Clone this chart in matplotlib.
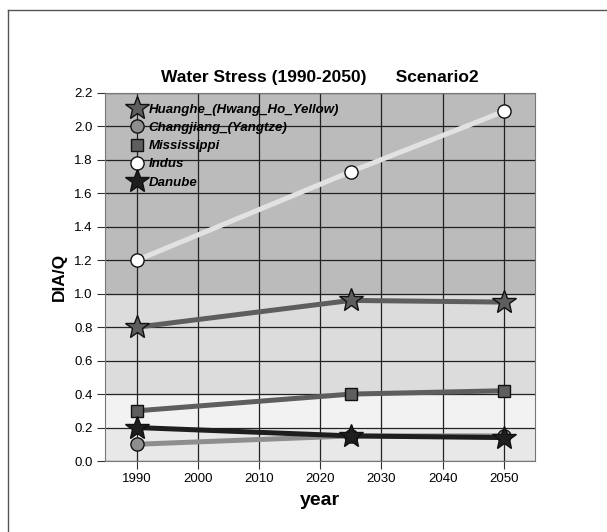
import matplotlib
matplotlib.use('Agg')
import matplotlib.pyplot as plt
from matplotlib.lines import Line2D

plt.rcParams['font.family'] = ['Liberation Sans', 'DejaVu Sans']

# Data
years = [1990, 2025, 2050]
rivers = ['Huanghe_(Hwang_Ho_Yellow)', 'Changjiang_(Yangtze)', 'Mississippi', 'Indus', 'Danube']
huanghe = [0.80, 0.96, 0.95]
changjiang = [0.10, 0.15, 0.15]
mississippi = [0.30, 0.40, 0.42]
indus = [1.20, 1.73, 2.09]
danube = [0.20, 0.15, 0.14]
series = [huanghe, changjiang, mississippi, indus, danube]

# Styles
line_colors = ['#5e5e5e', '#8e8e8e', '#5e5e5e', '#e2e2e2', '#1e1e1e']
face_colors = ['#5e5e5e', '#8e8e8e', '#5e5e5e', '#ffffff', '#1e1e1e']
markers = ['*', 'o', 's', 'o', '*']
msizes = [18, 9.5, 9, 9.5, 18]

fig = plt.figure(figsize=(6.07, 5.32), dpi=100)
ax = fig.add_axes([105/607, 1-461/532, 430/607, 368/532])

# background bands
ax.axhspan(0.0, 0.2, color='#e8e8e8', zorder=0)
ax.axhspan(0.2, 0.4, color='#f2f2f2', zorder=0)
ax.axhspan(0.4, 1.0, color='#dcdcdc', zorder=0)
ax.axhspan(1.0, 2.2, color='#bbbbbb', zorder=0)

for vals, lc, fc, m, ms in zip(series, line_colors, face_colors, markers, msizes):
    ax.plot(years, vals, color=lc, lw=3.6, zorder=3)
    ax.plot(years, vals, ls='none', marker=m, ms=ms, mfc=fc, mec='#111111', mew=1.0, zorder=4)

ax.set_xlim(1984.8, 2055.1)
ax.set_ylim(0, 2.2)
ax.set_xticks([1990, 2000, 2010, 2020, 2030, 2040, 2050])
ax.set_yticks([i * 0.2 for i in range(12)])
ax.set_yticklabels([f'{i * 0.2:.1f}' for i in range(12)])
ax.grid(True, color='#222222', lw=0.9, zorder=1)
ax.set_axisbelow(True)
ax.tick_params(direction='out', length=6, width=0.8, labelsize=9.5, pad=3, color='#333333')
for s in ax.spines.values():
    s.set_color('#777777')
    s.set_linewidth(0.8)

ax.set_title('Water Stress (1990-2050)      Scenario2', fontsize=12.5, fontweight='bold', pad=8)
ax.set_xlabel('year', fontsize=14, fontweight='bold', labelpad=5)
ax.set_ylabel('DIA/Q', fontsize=12.5, fontweight='bold', labelpad=5)

handles = [Line2D([], [], ls='none', marker=m, ms=ms, mfc=fc, mec='#111111', mew=1.0)
           for m, ms, fc in zip(markers, msizes, face_colors)]
leg = ax.legend(handles, rivers, loc='upper left', bbox_to_anchor=(0.05, 0.971), frameon=False,
                handlelength=1.6, handletextpad=0.05, labelspacing=0.45, borderaxespad=0.0,
                borderpad=0.0, prop={'size': 9.5, 'style': 'italic', 'weight': 'bold'})

# outer frame lines
fig.add_artist(Line2D([8/607, 1.0], [1-10/532, 1-10/532], color='#555555', lw=1.0))
fig.add_artist(Line2D([8/607, 8/607], [0.0, 1-10/532], color='#555555', lw=1.0))

fig.savefig('out.png', dpi=100)
